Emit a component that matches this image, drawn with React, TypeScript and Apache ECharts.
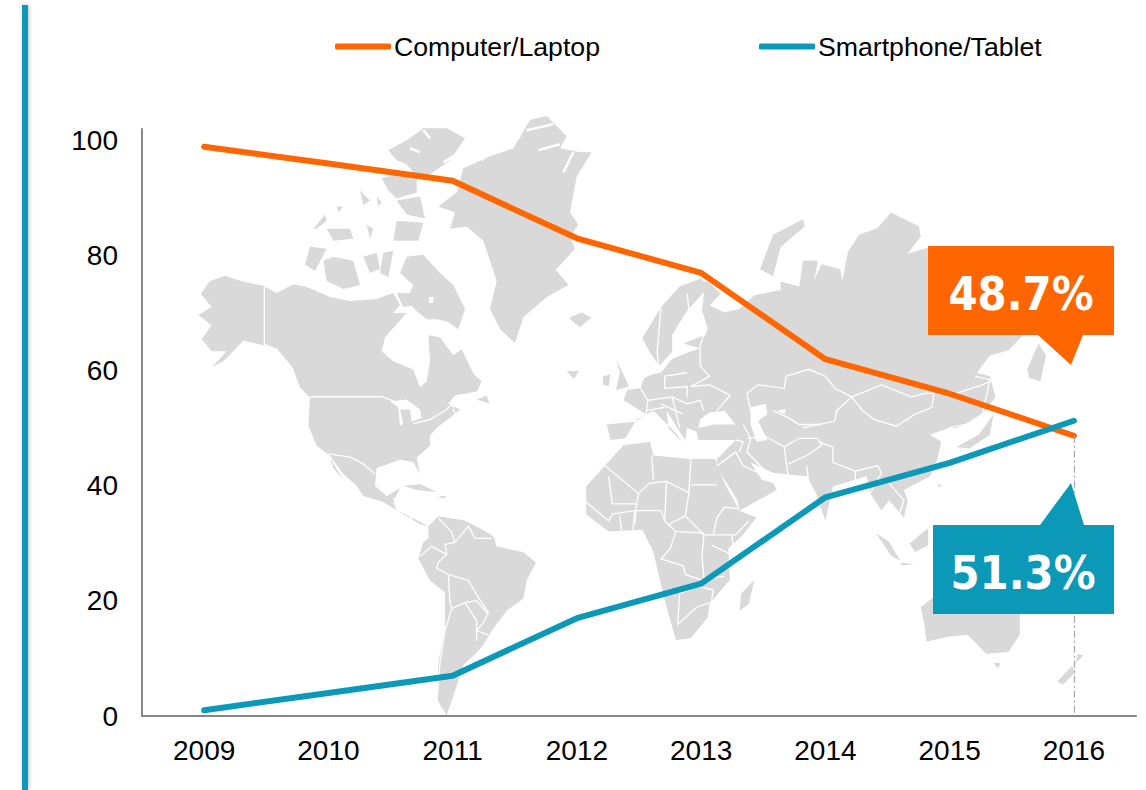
import React, { useEffect, useRef } from "react";
import * as echarts from "echarts";

const years = ["2009", "2010", "2011", "2012", "2013", "2014", "2015", "2016"];
const computerLaptop = [98.9, 96, 93, 83, 77, 62, 56, 48.7];
const smartphoneTablet = [1, 4, 7, 17, 23, 38, 44, 51.3];
const ORANGE = "#FF6600";
const TEAL = "#0B99B7";
const LAND = "#D9D9D9";
const FONT = "'Liberation Sans', Arial, sans-serif";

type P = number[];
const z1 = (p: P[]) => p.map(([x, y]) => [130 + x / 3, 100 + y / 2.487]);
const z2 = (p: P[]) => p.map(([x, y]) => [560 + x / 2.675, 190 + y / 2.9]);

const land1: P[][] = [
  [[212,482],[240,450],[285,437],[340,452],[400,462],[440,480],[490,458],[530,465],[600,490],[660,500],[740,495],[790,480],[810,510],[790,530],[830,530],[765,590],[755,625],[790,650],[850,670],[870,715],[890,700],[900,650],[895,585],[930,590],[970,635],[995,620],[1030,680],[1055,700],[1040,725],[975,735],[955,755],[990,770],[960,790],[920,815],[900,835],[900,860],[860,890],[870,930],[850,900],[810,895],[740,915],[735,960],[770,985],[810,965],[790,1000],[800,1020],[850,1040],[895,1060],[870,1055],[820,1030],[760,1000],[700,985],[680,960],[640,930],[600,885],[560,860],[535,810],[540,740],[510,715],[490,670],[440,620],[400,610],[340,598],[310,625],[280,650],[245,665],[290,625],[245,625],[215,595],[245,560],[205,535],[245,515]],
  [[830,390],[880,385],[930,430],[970,460],[1005,520],[985,570],[950,550],[920,545],[890,545],[860,525],[830,500],[850,460],[810,430]],
  [[800,480],[860,480],[860,510],[820,515]],
  [[580,400],[610,390],[670,400],[690,460],[640,470],[590,450]],
  [[525,410],[540,365],[590,370],[555,425]],
  [[775,125],[830,100],[880,70],[950,70],[1005,95],[960,150],[900,185],[860,190],[830,160],[800,150]],
  [[755,195],[800,185],[860,185],[860,230],[800,245],[775,225]],
  [[800,250],[870,240],[885,295],[830,285]],
  [[800,300],[880,305],[865,350],[790,350]],
  [[760,380],[790,375],[775,440],[750,430]],
  [[700,390],[740,380],[750,420],[720,430]],
  [[550,320],[585,285],[590,300],[560,320]],
  [[590,320],[660,320],[670,345],[610,350]],
  [[690,225],[720,250],[700,262]],
  [[620,265],[640,265],[625,280]],
  [[740,240],[755,255],[745,265]],
  [[710,310],[730,320],[720,345]],
  [[925,265],[980,230],[1000,170],[1080,140],[1150,120],[1200,50],[1250,40],[1310,90],[1290,120],[1350,130],[1385,130],[1340,190],[1320,280],[1345,310],[1320,340],[1335,370],[1280,420],[1315,460],[1250,490],[1180,540],[1155,605],[1110,570],[1080,520],[1100,450],[1060,350],[1010,315],[960,320],[975,280]],
  [[1320,545],[1350,530],[1385,540],[1350,565]],
  [[1310,675],[1345,675],[1330,692]],
  [[895,1060],[925,1035],[1000,1045],[1050,1065],[1090,1085],[1100,1110],[1180,1125],[1218,1150],[1190,1195],[1180,1240],[1130,1270],[1085,1320],[1060,1355],[1040,1375],[1000,1405],[975,1470],[950,1530],[920,1490],[925,1400],[945,1310],[945,1225],[900,1195],[865,1140],[880,1100],[895,1090]],
  [[820,960],[870,955],[920,975],[860,970]],
  [[925,985],[950,985],[940,992]],
  [[1040,745],[1070,735],[1078,755]],
  [[600,890],[640,945],[610,915]],
];

const water1: P[][] = [
  [[780,750],[830,745],[870,770],[875,790],[845,800],[840,770],[810,770],[820,805],[810,810],[805,765]],
  [[897,490],[912,490],[908,505],[897,505]],
];

const fjords1: P[][] = [
  [[1190,75],[1270,60]],
  [[1225,125],[1290,110]],
  [[1090,100],[1130,125]],
  [[1300,180],[1330,130]],
  [[1020,125],[1060,150]],
  [[1140,70],[1170,95]],
  [[940,155],[1000,125],[985,165]],
  [[880,75],[900,95]],
  [[840,120],[870,130]],
  [[1280,420],[1300,440]],
];

const land2: P[][] = [
  [[125,680],[135,725],[175,720],[205,665],[250,640],[310,705],[325,730],[290,690],[285,640],[320,700],[335,725],[340,690],[365,700],[370,725],[470,725],[420,780],[420,805],[475,900],[480,930],[530,900],[580,870],[570,850],[540,840],[510,790],[570,820],[610,825],[660,830],[685,880],[710,960],[730,860],[820,830],[830,880],[860,930],[880,900],[920,950],[930,900],[920,870],[990,830],[1010,780],[1020,730],[990,710],[1040,690],[1060,690],[1085,680],[1130,650],[1165,600],[1150,540],[1115,530],[1150,480],[1200,465],[1240,420],[1250,300],[1100,180],[990,165],[930,185],[965,135],[960,105],[885,65],[850,110],[800,130],[770,180],[755,265],[750,230],[700,215],[680,260],[690,205],[650,205],[640,280],[590,265],[590,290],[520,305],[500,325],[480,345],[440,355],[400,335],[430,300],[395,265],[370,265],[385,300],[380,350],[395,400],[390,420],[330,445],[375,460],[345,470],[300,490],[270,530],[245,535],[225,545],[215,575],[180,580],[170,610],[230,650],[200,672]],
  [[535,230],[570,130],[650,85],[655,105],[590,165],[570,250]],
  [[650,205],[680,205],[675,260],[645,265]],
  [[220,430],[270,340],[320,280],[380,255],[390,290],[340,350],[300,420],[300,470],[265,510],[240,470]],
  [[150,490],[185,570],[150,580],[160,530]],
  [[115,540],[135,535],[130,570],[115,565]],
  [[20,525],[50,525],[40,545]],
  [[25,370],[60,355],[80,370],[50,395]],
  [[120,800],[170,740],[240,730],[250,770],[350,780],[415,780],[440,850],[480,930],[525,950],[490,1000],[450,1040],[455,1130],[400,1200],[395,1240],[350,1300],[310,1305],[280,1190],[265,1120],[250,1050],[220,985],[130,990],[70,940],[70,860]],
  [[520,1130],[505,1200],[480,1220],[485,1170]],
  [[965,1210],[1000,1180],[1230,1230],[1230,1290],[1200,1340],[1140,1345],[1090,1290],[1040,1295],[980,1310],[975,1260]],
  [[1250,520],[1280,445],[1300,480],[1285,555],[1255,545]],
  [[845,995],[880,1020],[910,1075],[885,1060]],
  [[910,1080],[950,1086],[915,1088]],
  [[935,1025],[985,980],[985,1030],[950,1050]],
  [[1160,650],[1150,710],[1095,750],[1060,745],[1120,710]],
  [[1370,1380],[1330,1425],[1345,1435],[1378,1400]],
  [[1385,1345],[1400,1350],[1380,1372]],
  [[1160,1372],[1178,1372],[1172,1388]],
  [[1015,850],[1020,860],[1010,860]],
];

const water2: P[][] = [
  [[375,665],[400,645],[440,640],[470,680],[410,680],[370,690]],
  [[510,630],[550,620],[555,650],[530,670],[555,725],[525,730],[510,680]],
  [[580,640],[605,635],[600,650]],
];

const borders1: P[][] = [
  [[403,465],[403,608],[440,620],[490,670]],
  [[540,738],[755,738],[830,760]],
  [[595,880],[660,888],[700,905],[735,930]],
  [[850,805],[900,795],[950,770],[965,755],[975,780]],
  [[790,990],[810,1010]],
  [[830,1020],[850,1050]],
  [[925,1040],[965,1075],[975,1100],[1015,1060],[1035,1090],[1085,1090]],
  [[975,1100],[945,1105],[950,1130],[925,1150],[920,1165],[955,1180],[1015,1195],[1040,1230],[1075,1275],[1060,1300],[1040,1320],[1075,1330]],
  [[870,1135],[905,1110],[950,1130]],
  [[955,1180],[960,1250],[965,1265],[1005,1250],[1040,1245],[1075,1280]],
  [[965,1265],[945,1320],[930,1400],[920,1500]],
  [[1005,1250],[1040,1295],[1040,1320],[1040,1345]],
];

const borders2: P[][] = [
  [[120,800],[210,880],[240,850],[285,845],[345,878],[350,780]],
  [[245,770],[250,840]],
  [[350,855],[420,855]],
  [[130,830],[140,910],[205,910],[210,880]],
  [[205,910],[200,970]],
  [[285,845],[280,960],[290,970],[335,945],[345,878]],
  [[335,945],[385,1000],[410,1000],[420,950],[440,920],[480,925]],
  [[410,1000],[470,1000],[505,960]],
  [[290,970],[310,990],[385,995]],
  [[310,990],[295,1040],[270,1070],[330,1090],[335,1115],[375,1130]],
  [[385,1000],[380,1060],[385,1125]],
  [[405,1030],[465,1060],[460,1000]],
  [[375,1130],[440,1120]],
  [[320,1165],[315,1260]],
  [[320,1170],[370,1150],[410,1160],[405,1195],[365,1210],[315,1260]],
  [[70,905],[130,960],[140,940],[200,930],[270,930],[280,960]],
  [[200,930],[195,985]],
  [[160,945],[165,990]],
  [[265,530],[260,470],[270,340]],
  [[340,300],[345,350],[390,405],[375,450],[375,510],[400,540],[350,570],[400,565],[455,595],[420,640]],
  [[280,540],[340,530]],
  [[280,540],[280,575],[340,570],[340,600]],
  [[215,575],[235,610],[230,650]],
  [[235,610],[300,600],[340,620],[375,610],[385,640]],
  [[300,600],[320,690]],
  [[270,620],[330,650]],
  [[230,640],[280,630]],
  [[500,590],[530,565],[600,575],[605,540],[665,520],[710,540],[735,575],[780,600]],
  [[780,600],[860,565],[940,600],[975,590],[1000,590],[995,630],[950,650],[900,685],[840,665],[810,640],[780,600]],
  [[780,600],[740,640],[735,670],[650,690]],
  [[500,590],[510,640]],
  [[570,640],[610,660],[640,680],[700,680]],
  [[490,680],[510,720],[500,760],[545,810]],
  [[500,720],[550,715],[600,745],[605,790],[610,825]],
  [[600,745],[640,720],[690,720],[700,740],[660,770],[610,795]],
  [[690,730],[730,745],[730,790],[790,815],[850,800],[860,820],[830,880]],
  [[660,800],[665,850]],
  [[790,815],[790,850]],
  [[420,800],[470,760],[490,800],[550,830]],
  [[470,725],[490,730],[480,760]],
  [[880,850],[920,900],[905,950]],
  [[1040,690],[1085,680],[1130,650],[1150,550],[1110,540]],
  [[1060,590],[1130,565],[1160,550]],
];

const orangeCallout: P[] = [[928,246],[1114,246],[1114,335],[1083,335],[1071,365],[1038,335],[928,335]];
const tealCallout: P[] = [[933,525],[1040,525],[1071,483],[1084,525],[1114,525],[1114,614],[933,614]];

const poly = (points: number[][], fill: string, z = 0) => ({
  type: "polygon", silent: true, z, shape: { points }, style: { fill, stroke: "none" },
});
const line = (points: number[][], lineWidth = 1.3) => ({
  type: "polyline", silent: true, z: 1, shape: { points },
  style: { fill: "none", stroke: "#FFFFFF", lineWidth },
});
const calloutText = (text: string, x: number, y: number) => ({
  type: "text", silent: true, z: 11, x, y,
  style: {
    text, fill: "#FFFFFF", align: "center", verticalAlign: "middle",
    font: "bold 46.5px 'DejaVu Sans Condensed', 'DejaVu Sans', sans-serif",
  },
});

export default function App() {
  const ref = useRef<HTMLDivElement>(null);
  useEffect(() => {
    document.body.style.margin = "0";
    document.body.style.overflow = "hidden";
    const chart = echarts.init(ref.current!, null, { renderer: "svg" });
    chart.setOption({
      animation: false,
      backgroundColor: "#FFFFFF",
      grid: { left: 142, right: 10, top: 129, bottom: 74, containLabel: false },
      legend: {
        left: 330, top: 28, itemWidth: 56, itemHeight: 6, itemGap: 159, icon: "roundRect",
        textStyle: { fontFamily: FONT, fontSize: 26.67, color: "#000000", padding: [0, 0, 0, -2] },
        data: ["Computer/Laptop", "Smartphone/Tablet"],
      },
      xAxis: {
        type: "category", data: years, boundaryGap: true,
        axisLine: { lineStyle: { color: "#868686", width: 2 } },
        axisTick: { show: false },
        axisLabel: { fontFamily: FONT, fontSize: 28, color: "#000000", margin: 20 },
      },
      yAxis: {
        type: "value", min: 0, max: 102, interval: 20,
        splitLine: { show: false },
        axisTick: { show: false },
        axisLine: { show: true, lineStyle: { color: "#868686", width: 2 } },
        axisLabel: { fontFamily: FONT, fontSize: 28, color: "#000000", margin: 24, showMaxLabel: false },
      },
      series: [
        {
          name: "Computer/Laptop", type: "line", data: computerLaptop, showSymbol: false,
          itemStyle: { color: ORANGE },
          lineStyle: { color: ORANGE, width: 6, cap: "round", join: "round" },
          markLine: {
            silent: true, symbol: "none", label: { show: false },
            lineStyle: { color: "#A6A6A6", width: 1.2, type: [7, 3, 2, 3] },
            data: [[{ coord: ["2016", 48.7] }, { coord: ["2016", 0] }]],
          },
        },
        {
          name: "Smartphone/Tablet", type: "line", data: smartphoneTablet, showSymbol: false,
          itemStyle: { color: TEAL },
          lineStyle: { color: TEAL, width: 6, cap: "round", join: "round" },
        },
      ],
      graphic: [
        ...land1.map((p) => poly(z1(p), LAND)),
        ...land2.map((p) => poly(z2(p), LAND)),
        ...water1.map((p) => poly(z1(p), "#FFFFFF")),
        ...water2.map((p) => poly(z2(p), "#FFFFFF")),
        ...fjords1.map((p) => line(z1(p), 2.5)),
        ...borders1.map((p) => line(z1(p))),
        ...borders2.map((p) => line(z2(p))),
        { type: "rect", silent: true, z: 0, shape: { x: 22, y: 5, width: 6, height: 785 }, style: { fill: TEAL, shadowBlur: 4, shadowColor: "rgba(0,0,0,0.25)", shadowOffsetX: 1 } },
        poly(orangeCallout, ORANGE, 10),
        poly(tealCallout, TEAL, 10),
        calloutText("48.7%", 1021, 294),
        calloutText("51.3%", 1023, 573),
      ],
    });
    return () => chart.dispose();
  }, []);
  return <div ref={ref} style={{ position: "fixed", left: 0, top: 0, width: 1146, height: 790 }} />;
}
